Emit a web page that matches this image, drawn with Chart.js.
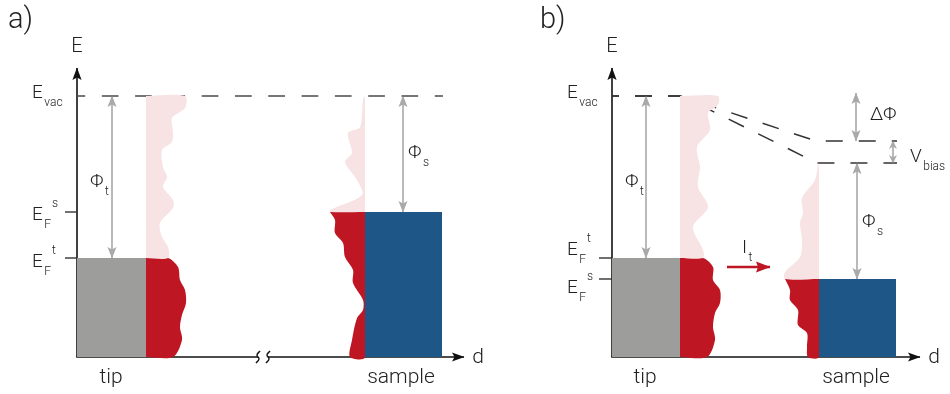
<!DOCTYPE html>
<html>
<head>
<meta charset="utf-8">
<script src="https://cdn.jsdelivr.net/npm/chart.js@4/dist/chart.umd.min.js"></script>
<style>
html,body{margin:0;padding:0;background:#fff;}
#wrap{width:950px;height:394px;position:relative;}
</style>
</head>
<body>
<div id="wrap"><canvas id="c"></canvas></div>
<script>
// ================= DATA =================
// Energies E in diagram units (E = 0 on the d axis), distances d measured from each panel's E axis.
const energyLevelNames = ['E_vac', 'E_F^t', 'E_F^s (a)', 'E_F^s (b)', 'E_vac,s (b)', 'E_vac,s - eV_bias (b)'];
const energyLevels     = [261, 99, 145, 78, 216, 194];
const [EVAC, EF_T, EF_S_A, EF_S_B, EVAC_S_B, EVAC_S_B_LOW] = energyLevels;

const panelLabels  = ['a)', 'b)'];
const axisLabels   = ['E', 'd'];
const objectLabels = ['tip', 'sample'];

// extents of the electrodes along d: [tip end, sample start, sample end]
const electrodesA = [69, 288, 365];
const electrodesB = [68, 207, 284];

// density of states outlines [d, E] (panel a)
const tipEmptyEdgeA   = [[108,261],[108,249],[95,239],[96,225],[95,215],[85,207],[86,190],[90,180],[86,170],[96,157],[96,149],[83,134],[85,120],[91,110],[91,99]];
const tipFilledEdgeA  = [[91,99],[101,90],[103,77],[108,67],[109,54],[105,42],[103,30],[105,17],[96,0]];
const sampleEmptyEdgeA  = [[288,261],[286,257],[283,230],[271,224],[275,204],[268,195],[280,177],[285,162],[253,147],[253,145]];
const sampleFilledEdgeA = [[253,145],[258,137],[258,124],[266,114],[268,100],[276,87],[276,74],[286,57],[286,47],[280,39],[275,17],[273,0]];

// density of states outlines [d, E] (panel b)
const tipEmptyEdgeB   = [[106,261],[106,252],[96,244],[98,227],[85,210],[88,190],[86,170],[96,150],[81,130],[91,107],[91,99]];
const tipFilledEdgeB  = [[91,99],[101,90],[101,77],[108,67],[108,54],[103,44],[101,30],[103,17],[95,0]];
const sampleEmptyEdgeB  = [[207,194],[206,192],[203,177],[190,159],[191,144],[188,134],[190,117],[188,100],[173,85],[173,78]];
const sampleFilledEdgeB = [[173,78],[178,67],[178,57],[186,47],[186,32],[195,24],[195,10],[196,0]];

// vacuum level in panel b bends from the tip towards the sample: [d, E]
const vacuumUpperB = [[0,261],[68,261],[73,259.5],[204,216],[285,216]];
const vacuumLowerB = [[0,261],[68,261],[73,259.5],[205,194],[285,194]];

// ================= STYLE =================
const C_GRAY = '#9d9d9c', C_RED = '#be1622', C_PINK = '#f7e3e4', C_BLUE = '#1f5688';
const C_AXIS = '#111111', C_DASH = '#4a4a4a', C_ARROW = '#a9a9a9', C_TEXT = '#222222';
const FONT = 'Roboto, "Liberation Sans", "DejaVu Sans", sans-serif';
const DOS_TENSION = 0.3;

// ================= HELPERS =================
const toXY = pts => pts.map(([x, y]) => ({x, y}));
function polyDs(pts, axis, color, tension) {
  return { data: toXY(pts), xAxisID: axis, yAxisID: 'y', fill: 'shape', backgroundColor: color,
           borderColor: 'rgba(0,0,0,0)', borderWidth: 0, pointRadius: 0, tension: tension || 0 };
}
function lineDs(pts, axis, color, width, extra) {
  return Object.assign({ data: toXY(pts), xAxisID: axis, yAxisID: 'y', fill: false,
           borderColor: color, backgroundColor: color, borderWidth: width, pointRadius: 0,
           tension: 0, borderCapStyle: 'butt', borderJoinStyle: 'miter' }, extra || {});
}
function rect(d0, d1, e0, e1) { return [[d0,e0],[d1,e0],[d1,e1],[d0,e1]]; }
function dosPolygon(edge, baseD, top, bottom) {
  return [[baseD, top], ...edge, [baseD, bottom]];
}

const datasets = [];
// ---- panel a fills ----
datasets.push(polyDs(rect(0, electrodesA[0], 0, EF_T), 'x', C_GRAY));
datasets.push(polyDs(dosPolygon(tipEmptyEdgeA, electrodesA[0], EVAC, EF_T), 'x', C_PINK, DOS_TENSION));
datasets.push(polyDs(dosPolygon(tipFilledEdgeA, electrodesA[0], EF_T, 0), 'x', C_RED, DOS_TENSION));
datasets.push(polyDs(rect(electrodesA[1], electrodesA[2], 0, EF_S_A), 'x', C_BLUE));
datasets.push(polyDs(dosPolygon(sampleEmptyEdgeA, electrodesA[1], EVAC, EF_S_A).reverse(), 'x', C_PINK, DOS_TENSION));
datasets.push(polyDs([...sampleFilledEdgeA, [electrodesA[1],0], [electrodesA[1],EF_S_A]], 'x', C_RED, DOS_TENSION));
// ---- panel b fills ----
datasets.push(polyDs(rect(0, electrodesB[0], 0, EF_T), 'xb', C_GRAY));
datasets.push(polyDs(dosPolygon(tipEmptyEdgeB, electrodesB[0], EVAC, EF_T), 'xb', C_PINK, DOS_TENSION));
datasets.push(polyDs(dosPolygon(tipFilledEdgeB, electrodesB[0], EF_T, 0), 'xb', C_RED, DOS_TENSION));
datasets.push(polyDs(rect(electrodesB[1], electrodesB[2], 0, EF_S_B), 'xb', C_BLUE));
datasets.push(polyDs([...sampleEmptyEdgeB, [electrodesB[1], EF_S_B]], 'xb', C_PINK, DOS_TENSION));
datasets.push(polyDs([...sampleFilledEdgeB, [electrodesB[1],0], [electrodesB[1],EF_S_B]], 'xb', C_RED, DOS_TENSION));

// ---- dashed vacuum levels ----
datasets.push(lineDs([[0,EVAC],[366,EVAC]], 'x', C_DASH, 1.6, {borderDash:[16.7,16.6], borderDashOffset: 8.5}));
datasets.push(lineDs(vacuumUpperB, 'xb', '#333333', 1.5, {borderDash:[17,16], borderDashOffset: 10}));
datasets.push(lineDs(vacuumLowerB, 'xb', '#333333', 1.5, {borderDash:[17,16], borderDashOffset: 10}));

// ---- double arrows (work functions, bias) ----
const grayHead = {len: 11, half: 4.5};
datasets.push(lineDs([[35,EVAC],[35,EF_T]], 'x', C_ARROW, 1.6, {arrowHeads:['start','end'], head: grayHead}));
datasets.push(lineDs([[326,EVAC],[326,EF_S_A]], 'x', C_ARROW, 1.6, {arrowHeads:['start','end'], head: grayHead}));
datasets.push(lineDs([[34,EVAC],[34,EF_T]], 'xb', C_ARROW, 1.6, {arrowHeads:['start','end'], head: grayHead}));
datasets.push(lineDs([[244,264],[244,EVAC_S_B]], 'xb', C_ARROW, 1.6, {arrowHeads:['start','end'], head: grayHead}));
datasets.push(lineDs([[281,EVAC_S_B],[281,EVAC_S_B_LOW]], 'xb', C_ARROW, 1.6, {arrowHeads:['start','end'], head: {len: 8, half: 4}}));
datasets.push(lineDs([[245,EVAC_S_B_LOW],[245,EF_S_B]], 'xb', C_ARROW, 1.6, {arrowHeads:['start','end'], head: grayHead}));
// tunnelling current arrow
datasets.push(lineDs([[115,90],[158,90]], 'xb', C_RED, 2.6, {arrowHeads:['end'], head: {len: 14, half: 5.5, back: 2}}));

// ---- ticks on E axes ----
datasets.push(lineDs([[-12,EF_S_A],[0,EF_S_A]], 'x', '#333', 1.4));
datasets.push(lineDs([[-12,EF_T],[0,EF_T]], 'x', '#333', 1.4));
datasets.push(lineDs([[-13,EF_T],[0,EF_T]], 'xb', '#333', 1.4));
datasets.push(lineDs([[-13,EF_S_B],[0,EF_S_B]], 'xb', '#333', 1.4));

// ---- axes ----
const axHead = {len: 12, half: 4.6};
datasets.push(lineDs([[0,0],[0,289]], 'x', C_AXIS, 1.6, {arrowHeads:['end'], head: axHead}));
datasets.push(lineDs([[-0.8,0],[181,0]], 'x', C_AXIS, 1.6));
datasets.push(lineDs([[191,0],[387,0]], 'x', C_AXIS, 1.6, {arrowHeads:['end'], head: axHead}));
datasets.push(lineDs([[183,6],[180,2],[182,-2],[179,-6]], 'x', C_AXIS, 1.4, {tension: 0.5}));
datasets.push(lineDs([[193,6],[190,2],[192,-2],[189,-6]], 'x', C_AXIS, 1.4, {tension: 0.5}));
datasets.push(lineDs([[0,0],[0,289]], 'xb', C_AXIS, 1.6, {arrowHeads:['end'], head: axHead}));
datasets.push(lineDs([[-0.8,0],[308,0]], 'xb', C_AXIS, 1.6, {arrowHeads:['end'], head: axHead}));

// ================= TEXT LAYOUT (panel, d, E, main, sub, sup, size, align) =================
const textLayout = [
  ['x', -69, 329, panelLabels[0], '', '', 29, 'left'],
  ['xb', -72, 329, panelLabels[1], '', '', 29, 'left'],
  ['x', 0, 305, axisLabels[0], '', '', 20, 'center'],
  ['xb', 0, 305, axisLabels[0], '', '', 20, 'center'],
  ['x', 401, -6, axisLabels[1], '', '', 21, 'center'],
  ['xb', 322, -6, axisLabels[1], '', '', 21, 'center'],
  ['x', 34, -26, objectLabels[0], '', '', 21, 'center'],
  ['x', 324, -26, objectLabels[1], '', '', 21, 'center'],
  ['xb', 33, -26, objectLabels[0], '', '', 21, 'center'],
  ['xb', 244, -26, objectLabels[1], '', '', 21, 'center'],
  ['x', -45, 259, 'E', 'vac', '', 19, 'left'],
  ['x', -45, 137, 'E', 'F', 's', 19, 'left'],
  ['x', -45, 90, 'E', 'F', 't', 19, 'left'],
  ['xb', -45, 259, 'E', 'vac', '', 19, 'left'],
  ['xb', -45, 102, 'E', 'F', 't', 19, 'left'],
  ['xb', -45, 64, 'E', 'F', 's', 19, 'left'],
  ['x', 13, 170, '\u03A6', 't', '', 19, 'left'],
  ['x', 331, 199, '\u03A6', 's', '', 19, 'left'],
  ['xb', 13, 170, '\u03A6', 't', '', 19, 'left'],
  ['xb', 250, 130, '\u03A6', 's', '', 19, 'left'],
  ['xb', 258, 237, '\u0394\u03A6', '', '', 19, 'left'],
  ['xb', 298, 195, 'V', 'bias', '', 19, 'left'],
  ['xb', 130, 104, 'I', 't', '', 19, 'left'],
];

function drawRich(ctx, x, y, main, sub, sup, size, align) {
  const small = Math.round(size * 0.64);
  ctx.font = `300 ${size}px ${FONT}`;
  const w = ctx.measureText(main).width;
  if (align === 'center') x -= w / 2;
  ctx.fillText(main, x, y);
  let cx = x + w + 1.5;
  ctx.font = `300 ${small}px ${FONT}`;
  let sw = 0;
  if (sub) { ctx.fillText(sub, cx, y + size * 0.4); sw = ctx.measureText(sub).width; }
  if (sup) { ctx.fillText(sup, cx + sw + 1, y - size * 0.66); }
}

const decor = {
  id: 'decor',
  afterDatasetsDraw(chart) {
    const ctx = chart.ctx;
    chart.data.datasets.forEach((ds, i) => {
      if (!ds.arrowHeads) return;
      const pts = chart.getDatasetMeta(i).data;
      const n = pts.length;
      const h = ds.head;
      const draw = (tip, from) => {
        const a = Math.atan2(tip.y - from.y, tip.x - from.x);
        const ux = Math.cos(a), uy = Math.sin(a);
        const px = -uy, py = ux;
        const bx = tip.x - ux * h.len, by = tip.y - uy * h.len;
        const nb = h.back !== undefined ? h.back : 2.5;
        ctx.save();
        ctx.fillStyle = ds.borderColor;
        ctx.beginPath();
        ctx.moveTo(tip.x + ux * 0.5, tip.y + uy * 0.5);
        ctx.lineTo(bx + px * h.half, by + py * h.half);
        ctx.lineTo(bx + ux * nb, by + uy * nb);
        ctx.lineTo(bx - px * h.half, by - py * h.half);
        ctx.closePath();
        ctx.fill();
        ctx.restore();
      };
      if (ds.arrowHeads.includes('start')) draw(pts[0], pts[1]);
      if (ds.arrowHeads.includes('end')) draw(pts[n - 1], pts[n - 2]);
    });
  },
  afterDraw(chart) {
    const ctx = chart.ctx;
    const y = chart.scales.y;
    ctx.save();
    ctx.fillStyle = C_TEXT;
    ctx.textBaseline = 'alphabetic';
    ctx.textAlign = 'left';
    textLayout.forEach(([ax, d, e, main, sub, sup, size, align]) => {
      const X = chart.scales[ax].getPixelForValue(d);
      const Y = y.getPixelForValue(e);
      drawRich(ctx, X, Y, main, sub, sup, size, align);
    });
    ctx.restore();
  }
};

new Chart(document.getElementById('c'), {
  type: 'line',
  data: { datasets },
  options: {
    responsive: true,
    maintainAspectRatio: false,
    animation: false,
    events: [],
    layout: { padding: 0 },
    plugins: { legend: { display: false }, tooltip: { enabled: false }, title: { display: false },
               filler: { propagate: false } },
    scales: {
      x:  { type: 'linear', axis: 'x', display: false, min: -77,  max: 873 },
      xb: { type: 'linear', axis: 'x', display: false, min: -612, max: 338 },
      y:  { type: 'linear', axis: 'y', display: false, min: -37,  max: 357 }
    }
  },
  plugins: [decor]
});
</script>
</body>
</html>
